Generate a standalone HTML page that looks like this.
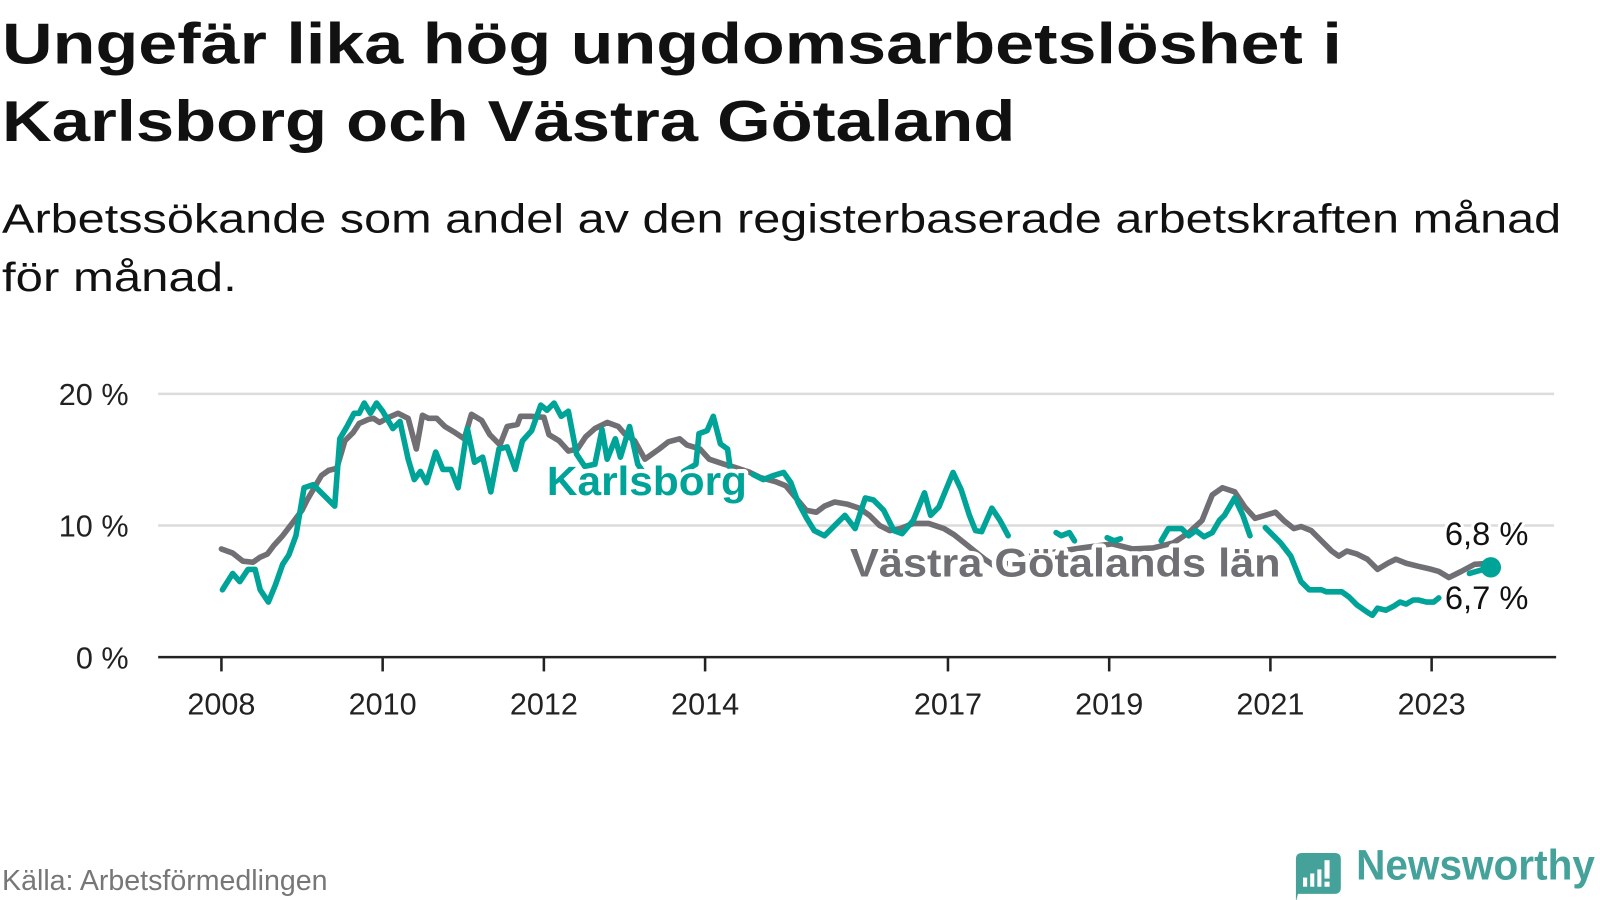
<!DOCTYPE html>
<html><head><meta charset="utf-8"><style>
html,body{margin:0;padding:0;background:#fff;}
svg{display:block;}
svg text{font-family:"Liberation Sans","DejaVu Sans",sans-serif;}
</style></head><body>
<svg width="1600" height="900" viewBox="0 0 1568 882" xmlns="http://www.w3.org/2000/svg">
<text x="2" y="62" font-size="56" font-weight="bold" fill="#111" textLength="1313" lengthAdjust="spacingAndGlyphs">Ungefär lika hög ungdomsarbetslöshet i</text>
<text x="2" y="138" font-size="56" font-weight="bold" fill="#111" textLength="993" lengthAdjust="spacingAndGlyphs">Karlsborg och Västra Götaland</text>
<text x="2" y="228" font-size="40" fill="#111" textLength="1528" lengthAdjust="spacingAndGlyphs">Arbetssökande som andel av den registerbaserade arbetskraften månad</text>
<text x="2" y="285" font-size="40" fill="#111" textLength="230" lengthAdjust="spacingAndGlyphs">för månad.</text>

<g stroke="#dcdcdc" stroke-width="2.5">
<line x1="155" y1="386" x2="1523" y2="386"/>
<line x1="155" y1="515" x2="1523" y2="515"/>
</g>
<g font-size="30" fill="#222" text-anchor="end">
<text x="126" y="397">20 %</text>
<text x="126" y="526">10 %</text>
<text x="126" y="655">0 %</text>
</g>

<g fill="none" stroke-linejoin="round" stroke-linecap="round" stroke-width="5.5">
<polyline stroke="#706f74" points="217,538 228,542 238,550 248,551 255,546 262,543 268,535 277,525 287,512 296,500 301,490 308,478 315,466 322,461 330,459 338,432 346,424 352,415 361,411 366,410 372,414 381,409 390,405 400,410 408,440 414,407 420,410 428,410 436,418 446,424 455,430 462,406 472,412 480,426 490,436 497,418 507,416 510,408 520,408 533,409 538,426 548,432 557,442 566,440 574,428 583,420 595,414 606,418 612,425 622,432 632,450 646,440 655,433 666,430 673,436 686,440 695,450 710,455 720,458 735,463 745,468 760,472 770,476 780,488 790,500 800,502 808,496 818,492 830,494 842,498 852,505 862,515 872,520 882,518 895,513 910,513 925,518 935,524 945,532 955,540 965,548 975,555 990,552 1010,545 1040,540 1060,537 1090,533 1110,538 1130,537 1150,532 1165,522 1178,510 1188,485 1198,478 1210,482 1220,497 1230,508 1240,505 1250,502 1258,510 1268,518 1275,516 1285,520 1295,530 1305,540 1312,545 1320,540 1330,543 1340,548 1350,558 1360,552 1368,548 1378,552 1390,555 1403,558 1410,560 1420,566 1432,560 1445,553 1460,552"/>
<g stroke="#00a398">
<polyline points="218,578 228,562 235,570 243,558 250,558 255,578 263,590 270,573 277,553 283,544 290,525 298,478 307,475 318,486 328,496 333,430 340,418 347,405 352,405 357,395 363,405 369,395 375,403 385,420 392,413 400,450 406,470 412,462 418,473 427,443 434,460 442,460 449,478 458,420 465,453 473,448 481,482 489,440 497,438 505,460 512,432 521,422 530,397 536,402 543,395 550,408 557,403 565,445 573,457 583,455 590,421 595,450 603,430 608,448 617,418 625,455 632,465"/>
<polyline points="670,462 682,455 685,425 693,422 699,408 706,435 713,440 716,462"/>
<polyline points="738,465 748,470 758,466 768,463 775,473 782,492 790,507 798,520 808,525 818,515 828,505 838,518 848,488 856,490 866,500 876,520 884,523 895,510 906,483 912,505 920,497 934,463 942,480 950,505 956,520 962,521 972,498 980,510 988,525"/>
<polyline points="1035,522 1040,525 1048,522 1053,530"/>
<polyline points="1085,527 1092,530 1098,528"/>
<polyline points="1138,530 1145,518 1158,518 1165,525 1172,520 1180,526 1188,522 1195,510 1200,505 1210,488 1218,505 1225,525"/>
<polyline points="1240,517 1248,525 1255,532 1265,545 1275,570 1283,578 1295,578 1300,580 1315,580 1322,585 1330,593 1340,600 1345,603 1350,596 1358,598 1366,594 1372,590 1378,592 1385,588 1390,588 1398,590 1405,590 1410,586"/>
<polyline points="1440,562 1461,556"/>
</g>
</g>
<circle cx="1461" cy="556" r="10" fill="#00a398"/>

<g font-weight="bold" stroke="#fff" stroke-width="8" paint-order="stroke" stroke-linejoin="round">
<text x="536" y="485" font-size="40" fill="#00a398" textLength="196" lengthAdjust="spacingAndGlyphs">Karlsborg</text>
<text x="833" y="565" font-size="39" fill="#706f74" textLength="422" lengthAdjust="spacingAndGlyphs">Västra Götalands län</text>
</g>
<g font-size="32" fill="#111" stroke="#fff" stroke-width="6" paint-order="stroke">
<text x="1416" y="534">6,8 %</text>
<text x="1416" y="597">6,7 %</text>
</g>

<line x1="155" y1="644" x2="1525" y2="644" stroke="#222" stroke-width="2.5"/>
<g stroke="#222" stroke-width="2.5">
<line x1="217" y1="644" x2="217" y2="658"/><line x1="375" y1="644" x2="375" y2="658"/>
<line x1="533" y1="644" x2="533" y2="658"/><line x1="691" y1="644" x2="691" y2="658"/>
<line x1="929" y1="644" x2="929" y2="658"/><line x1="1087" y1="644" x2="1087" y2="658"/>
<line x1="1245" y1="644" x2="1245" y2="658"/><line x1="1403" y1="644" x2="1403" y2="658"/>
</g>
<g font-size="30" fill="#222" text-anchor="middle">
<text x="217" y="700">2008</text><text x="375" y="700">2010</text><text x="533" y="700">2012</text><text x="691" y="700">2014</text>
<text x="929" y="700">2017</text><text x="1087" y="700">2019</text><text x="1245" y="700">2021</text><text x="1403" y="700">2023</text>
</g>

<text x="2" y="872" font-size="28" fill="#777">Källa: Arbetsförmedlingen</text>
<g>
<path d="M1270,842 q0,-6 6,-6 h32 q6,0 6,6 v28 q0,6 -6,6 h-36 l-2,8 z" fill="#45a29a"/>
<rect x="1277" y="860" width="4" height="9" fill="#fff"/>
<rect x="1284" y="856" width="4" height="13" fill="#fff"/>
<rect x="1291" y="852" width="4" height="17" fill="#fff"/>
<rect x="1298" y="843" width="5" height="18" fill="#fff"/>
<rect x="1298" y="864" width="5" height="5" fill="#fff"/>
</g>
<text x="1329" y="862" font-size="42" font-weight="bold" fill="#45a29a" textLength="234" lengthAdjust="spacingAndGlyphs">Newsworthy</text>
</svg>
</body></html>
